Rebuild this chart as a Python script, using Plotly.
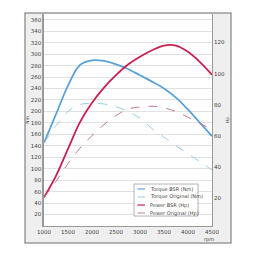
import plotly.graph_objects as go

rpm = [1000, 1250, 1500, 1750, 2000, 2250, 2500, 2750, 3000, 3250, 3500, 3750, 4000, 4250, 4500]
torque_bsr = [145, 195, 245, 281, 289, 288, 282, 274, 263, 252, 240, 224, 203, 180, 157]
torque_orig = [145, 175, 200, 212, 214, 213, 208, 200, 188, 170, 155, 140, 126, 112, 98]
power_bsr = [20.4, 34.2, 51.6, 68.8, 81.2, 91.0, 99.0, 105.8, 110.8, 115.0, 118.0, 118.0, 114.0, 107.4, 99.2]
power_orig = [20.4, 30.7, 42.1, 52.1, 60.1, 67.2, 73.0, 77.2, 78.5, 79.0, 78.0, 75.5, 72.0, 68.0, 64.0]

series_names = ["Torque BSR (Nm)", "Torque Original (Nm)", "Power BSR (Hp)", "Power Original (Hp)"]
left_ticks = list(range(20, 361, 20))
right_ticks = [20, 40, 60, 80, 100, 120]
x_ticks = [1000, 1500, 2000, 2500, 3000, 3500, 4000, 4500]

BLUE = "#5aa2d8"
BLUE_L = "#8cc6ea"
RED = "#c8204f"
RED_L = "#c06a8a"

styles = [
    dict(color=BLUE, width=1.8),
    dict(color=BLUE_L, width=0.9, dash="dash"),
    dict(color=RED, width=1.8),
    dict(color=RED_L, width=0.9, dash="dash"),
]
data = [torque_bsr, torque_orig, power_bsr, power_orig]
axes = ["y", "y", "y2", "y2"]

fig = go.Figure()
for name, vals, st, ax in zip(series_names, data, styles, axes):
    fig.add_trace(go.Scatter(x=rpm, y=vals, name=name, mode="lines", yaxis=ax,
                             line=dict(shape="spline", **st), showlegend=False))

tf = dict(family="DejaVu Sans", size=5.5, color="#444")

shapes = [
    dict(type="rect", xref="paper", yref="paper", x0=-0.113, x1=1.113, y0=-0.08, y1=1.005,
         fillcolor="#efefef", line=dict(color="#9a9a9a", width=1.5), layer="below"),
    dict(type="rect", xref="paper", yref="paper", x0=0, x1=1, y0=0, y1=1,
         fillcolor="white", line=dict(width=0), layer="below"),
    # legend box
    dict(type="rect", xref="paper", yref="paper", x0=0.536, x1=0.917, y0=0.047, y1=0.198,
         fillcolor="white", line=dict(color="#a0a0a0", width=0.8), layer="above"),
]
annotations = [
    dict(text="rpm", xref="paper", yref="paper", x=0.98, y=-0.036, showarrow=False,
         font=dict(family="DejaVu Sans", size=5, color="#444"), yanchor="top", xanchor="center"),
]
entry_y = [0.1745, 0.1368, 0.099, 0.0613]
for name, st, yy in zip(series_names, styles, entry_y):
    lst = dict(st)
    lst["width"] = 1.2 if "dash" not in st else 0.9
    shapes.append(dict(type="line", xref="paper", yref="paper", x0=0.556, x1=0.601, y0=yy, y1=yy,
                       line=lst, layer="above"))
    annotations.append(dict(text=name, xref="paper", yref="paper", x=0.619, y=yy, showarrow=False,
                            xanchor="left", yanchor="middle",
                            font=dict(family="DejaVu Sans", size=5, color="#444")))

fig.update_layout(
    width=256, height=256,
    margin=dict(l=44, r=44, t=14, b=30),
    paper_bgcolor="white",
    plot_bgcolor="rgba(0,0,0,0)",
    showlegend=False,
    xaxis=dict(range=[1000, 4500], tickvals=x_ticks, tickfont=tf, showgrid=False,
               showline=True, linecolor="#999", linewidth=1, zeroline=False, ticks=""),
    yaxis=dict(range=[0, 370], tickvals=left_ticks, tickfont=tf, showgrid=True,
               gridcolor="#e2e2e2", gridwidth=1, showline=True, linecolor="#999",
               linewidth=1.5, zeroline=False, ticks="",
               title=dict(text="Nm", font=dict(family="DejaVu Sans", size=4.5, color="#444"), standoff=1)),
    yaxis2=dict(range=[2, 138.3], tickvals=right_ticks, tickfont=tf, overlaying="y", side="right",
                showgrid=False, showline=True, linecolor="#999", linewidth=1, zeroline=False, ticks="",
                title=dict(text="Hp", font=dict(family="DejaVu Sans", size=4.5, color="#444"), standoff=1)),
    shapes=shapes,
    annotations=annotations,
)

fig.write_html("out.html")
